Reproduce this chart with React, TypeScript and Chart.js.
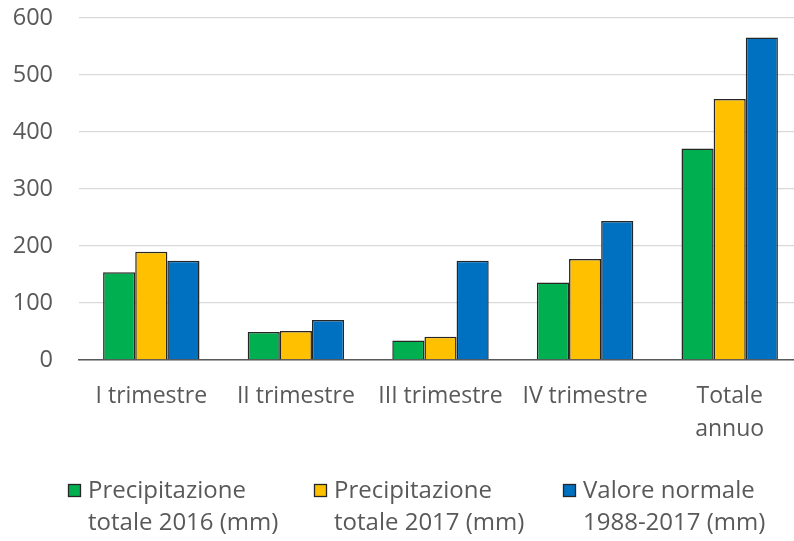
import React, { useEffect, useRef } from "react";
import { Chart, registerables } from "chart.js";

Chart.register(...registerables);

const categories: (string | string[])[] = [
  "I trimestre",
  "II trimestre",
  "III trimestre",
  "IV trimestre",
  ["Totale", "annuo"],
];

const precip2016 = [154, 49, 34, 136, 371];
const precip2017 = [190, 51, 41, 177, 458];
const normale19882017 = [174, 70, 174, 244, 566];

const seriesLabels: string[][] = [
  ["Precipitazione", "totale 2016 (mm)"],
  ["Precipitazione", "totale 2017 (mm)"],
  ["Valore normale", "1988-2017 (mm)"],
];

const seriesColors = ["#00B050", "#FFC000", "#0070C0"];

const yTicks = [0, 100, 200, 300, 400, 500, 600];

const FONT = "'Open Sans', 'Noto Sans', sans-serif";
const TEXT_COLOR = "#595959";

const LEGEND_MARK_X = [68, 314, 563];
const LEGEND_TOP = 484;

const legendPlugin = {
  id: "multiLineLegend",
  afterDraw(chart: any) {
    const ctx = chart.ctx as CanvasRenderingContext2D;
    ctx.save();
    chart.data.datasets.forEach((ds: any, i: number) => {
      const mx = LEGEND_MARK_X[i];
      ctx.fillStyle = ds.backgroundColor;
      ctx.strokeStyle = "#262626";
      ctx.lineWidth = 1.3;
      ctx.fillRect(mx, LEGEND_TOP, 13, 13);
      ctx.strokeRect(mx + 0.5, LEGEND_TOP + 0.5, 12, 12);
      ctx.fillStyle = TEXT_COLOR;
      ctx.font = `24px ${FONT}`;
      ctx.textAlign = "left";
      ctx.textBaseline = "middle";
      const lines: string[] = ds.label.split("\n");
      lines.forEach((ln, j) => {
        ctx.fillText(ln, mx + 20, LEGEND_TOP + 7 + j * 32);
      });
    });
    ctx.restore();
  },
};

export default function App() {
  const ref = useRef<HTMLCanvasElement | null>(null);
  useEffect(() => {
    document.body.style.margin = "0";
    const canvas = ref.current!;
    const chart = new Chart(canvas, {
      type: "bar",
      data: {
        labels: categories,
        datasets: [precip2016, precip2017, normale19882017].map((d, i) => ({
          label: seriesLabels[i].join("\n"),
          data: d,
          backgroundColor: seriesColors[i],
          borderColor: "#262626",
          borderWidth: 1.5,
          categoryPercentage: 2 / 3,
          barPercentage: 1,
        })),
      },
      options: {
        responsive: false,
        animation: false,
        devicePixelRatio: 1,
        layout: { padding: { top: 18, left: 0, right: 1, bottom: 0 } },
        plugins: {
          legend: { display: false },
          tooltip: { enabled: false },
        },
        scales: {
          x: {
            grid: { display: false, drawTicks: false },
            border: { display: true, color: "#595959", width: 1.5 },
            ticks: {
              color: TEXT_COLOR,
              font: { family: FONT, size: 23, lineHeight: 1.43 },
              padding: 20,
              maxRotation: 0,
              autoSkip: false,
            },
            afterFit: (s: any) => {
              s.height = 181;
              s.paddingLeft = 0;
              s.paddingRight = 0;
            },
          },
          y: {
            min: 0,
            max: 600,
            afterBuildTicks: (s: any) => {
              s.ticks = yTicks.map((v) => ({ value: v }));
            },
            grid: { color: "#D9D9D9", lineWidth: 1.3, drawTicks: false },
            border: { display: false },
            ticks: {
              color: TEXT_COLOR,
              font: { family: FONT, size: 23.5 },
              padding: 26,
            },
            afterFit: (s: any) => {
              s.width = 79;
              s.paddingTop = 0;
              s.paddingBottom = 0;
            },
          },
        },
      },
      plugins: [legendPlugin],
    });
    return () => chart.destroy();
  }, []);
  return (
    <div
      style={{
        position: "fixed",
        left: 0,
        top: 0,
        width: 794,
        height: 541,
        overflow: "hidden",
        background: "#fff",
      }}
    >
      <canvas ref={ref} width={803} height={541} style={{ display: "block" }} />
    </div>
  );
}
